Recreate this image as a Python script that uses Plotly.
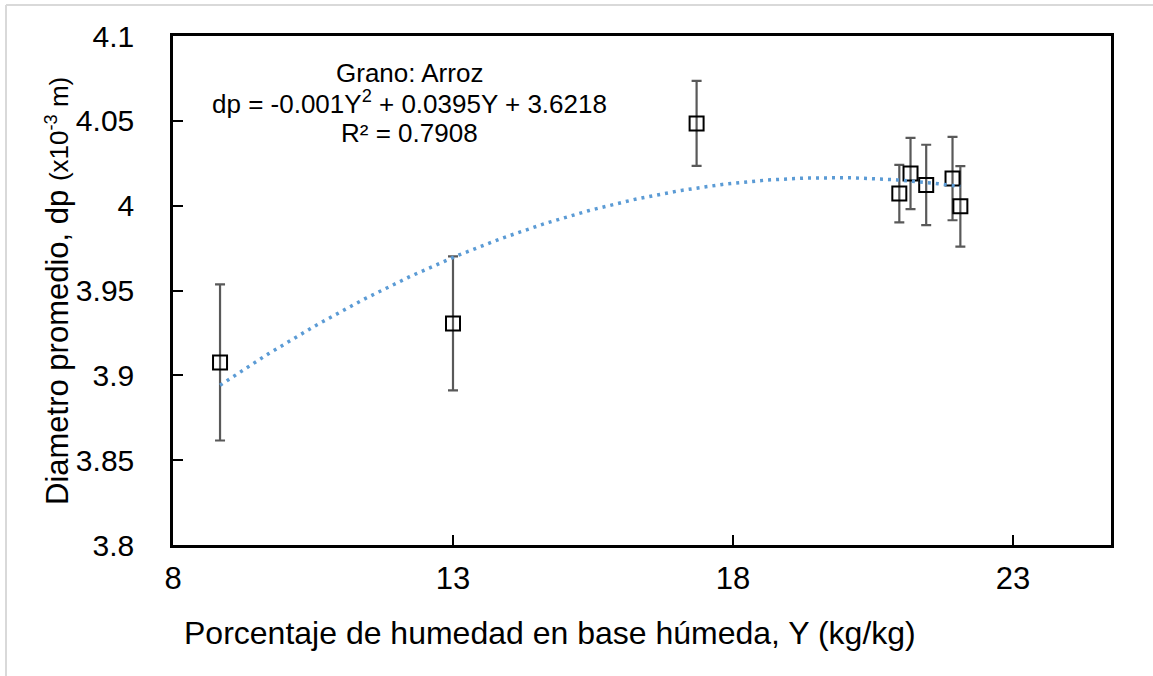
import numpy as np
import plotly.graph_objects as go

# Data
humedad = [8.84, 13.0, 17.35, 20.97, 21.17, 21.45, 21.92, 22.06]
diametro = [3.9076, 3.9306, 4.0485, 4.0071, 4.0190, 4.0122, 4.0160, 3.9996]
error = [0.046, 0.0395, 0.025, 0.017, 0.021, 0.0237, 0.0246, 0.0237]

x_ticks = [8, 13, 18, 23]
y_ticks = [3.8, 3.85, 3.9, 3.95, 4.0, 4.05, 4.1]
y_tick_text = ["3.8", "3.85", "3.9", "3.95", "4", "4.05", "4.1"]

annot_lines = ["Grano: Arroz",
               "dp = -0.001Y<sup>2</sup> + 0.0395Y + 3.6218",
               "R² = 0.7908"]

# Quadratic trendline (least squares, as the spreadsheet does)
coef = np.polyfit(humedad, diametro, 2)
xt = np.linspace(min(humedad), max(humedad), 200)
yt = np.polyval(coef, xt)

FONT = "Liberation Sans, Arial, sans-serif"
L, R, T, B = 173, 42, 36, 131
PW, PH = 1153 - L - R, 676 - T - B


def px(xp):
    return (xp - L) / PW


def py(yp):
    return (676 - B - yp) / PH


fig = go.Figure()
fig.add_trace(go.Scatter(
    x=humedad, y=diametro, mode="markers",
    marker=dict(symbol="square-open", size=14, color="black",
                line=dict(width=2, color="black")),
    error_y=dict(type="data", array=error, visible=True,
                 color="#595959", thickness=2.2, width=5),
    showlegend=False, hoverinfo="skip",
))
fig.add_trace(go.Scatter(
    x=xt, y=yt, mode="lines",
    line=dict(color="#5B9BD5", width=3.5, dash="3px,5px"),
    showlegend=False, hoverinfo="skip",
))

annotations = []
for i, t in enumerate(annot_lines):
    annotations.append(dict(
        x=px(409), y=py(73 + 30 * i), xref="paper", yref="paper",
        text=t, showarrow=False, xanchor="center", yanchor="middle",
        font=dict(size=26, family=FONT, color="black"),
    ))
annotations.append(dict(
    x=px(550), y=py(633), xref="paper", yref="paper",
    text="Porcentaje de humedad en base húmeda, Y (kg/kg)",
    showarrow=False, xanchor="center", yanchor="middle",
    font=dict(size=32, family=FONT, color="black"),
))
annotations.append(dict(
    x=px(57), y=py(291), xref="paper", yref="paper", textangle=-90,
    text="Diametro promedio, dp <span style='font-size:26px'>(x10<sup>-3</sup> m)</span>",
    showarrow=False, xanchor="center", yanchor="middle",
    font=dict(size=31, family=FONT, color="black"),
))

fig.update_layout(
    width=1153, height=676,
    margin=dict(l=L, r=R, t=T, b=B),
    paper_bgcolor="white", plot_bgcolor="white",
    font=dict(family=FONT, color="black"),
    xaxis=dict(
        range=[8, 24.75], tickvals=x_ticks, ticks="inside", ticklen=10,
        tickcolor="black", tickwidth=2,
        showline=True, linecolor="black", linewidth=2.5, mirror=True,
        showgrid=False, zeroline=False,
        tickfont=dict(size=31, family=FONT), ticklabelstandoff=4,
    ),
    yaxis=dict(
        range=[3.8, 4.1], tickvals=y_ticks, ticktext=y_tick_text,
        ticks="inside", ticklen=10, tickcolor="black", tickwidth=2,
        showline=True, linecolor="black", linewidth=2.5, mirror=True,
        showgrid=False, zeroline=False,
        tickfont=dict(size=30, family=FONT), ticklabelstandoff=30,
    ),
    annotations=annotations,
    shapes=[
        dict(type="line", xref="paper", yref="paper",
             x0=px(6), x1=px(1153), y0=py(5), y1=py(5),
             line=dict(color="#D9D9D9", width=2)),
        dict(type="line", xref="paper", yref="paper",
             x0=px(6), x1=px(6), y0=py(5), y1=py(676),
             line=dict(color="#D9D9D9", width=2)),
    ],
)

fig.write_html("out.html")
